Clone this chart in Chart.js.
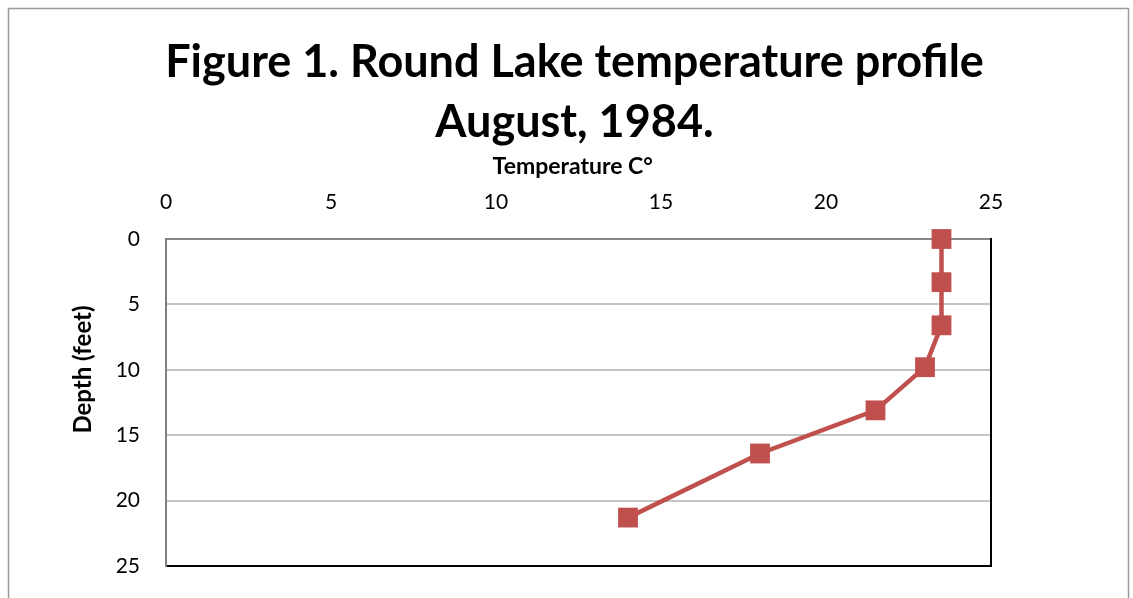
<!DOCTYPE html>
<html lang="en">
<head>
  <meta charset="UTF-8">
  <title>Round Lake temperature profile</title>
  <script src="https://cdn.jsdelivr.net/npm/chart.js"></script>
  <style>
    body { margin: 0; background: white; }
    #wrap { width: 1133px; height: 598px; position: relative; }
  </style>
</head>
<body>
<div id="wrap"><canvas id="perfilChart"></canvas></div>
<script>
// temperature (C) and depth (feet)
const temperaturas = [23.5, 23.5, 23.5, 23.0, 21.5, 18.0, 14.0];
const profundidades = [0, 3.3, 6.6, 9.8, 13.1, 16.4, 21.3];
const tituloLineas = ['Figure 1. Round Lake temperature profile', 'August, 1984.'];
const ejeX = { min: 0, max: 25, paso: 5 };
const ejeY = { min: 0, max: 25, paso: 5 };

const rojo = '#C0504D';

// outer frame of the chart object
const marco = {
  id: 'marco',
  beforeDraw(chart) {
    const ctx = chart.ctx;
    ctx.save();
    ctx.fillStyle = 'white';
    ctx.fillRect(0, 0, chart.width, chart.height);
    ctx.strokeStyle = '#9a9a9a';
    ctx.lineWidth = 1.5;
    ctx.strokeRect(8.5, 8.5, 1120, 700);
    ctx.restore();
  }
};

Chart.defaults.font.family = 'Lato, "Open Sans", sans-serif';
Chart.defaults.color = '#000';

const ctx = document.getElementById('perfilChart').getContext('2d');
new Chart(ctx, {
  type: 'scatter',
  data: {
    datasets: [{
      data: temperaturas.map((t, i) => ({ x: t, y: profundidades[i] })),
      showLine: true,
      borderColor: rojo,
      backgroundColor: rojo,
      borderWidth: 4.5,
      pointStyle: 'rect',
      pointRadius: 14,
      pointHoverRadius: 14,
      pointBorderWidth: 0,
      clip: false
    }]
  },
  options: {
    responsive: true,
    maintainAspectRatio: false,
    animation: false,
    layout: { padding: { left: 16, right: 0, top: 0, bottom: 0 } },
    plugins: {
      legend: { display: false },
      tooltip: { enabled: false },
      title: {
        display: true,
        text: tituloLineas,
        color: '#000',
        font: { size: 45, weight: 'bold', lineHeight: 1.3333 },
        padding: { top: 32, bottom: 0 }
      }
    },
    scales: {
      x: {
        type: 'linear',
        position: 'top',
        min: ejeX.min, max: ejeX.max,
        ticks: { stepSize: ejeX.paso, padding: 24, font: { size: 21 } },
        grid: { display: false, drawTicks: false },
        border: { display: true, color: '#868686', width: 2 },
        title: {
          display: true,
          text: 'Temperature C°\u2002',
          font: { size: 23, weight: 'bold', lineHeight: 1.2 },
          padding: { top: 1, bottom: 0 }
        },
        afterFit(scale) { scale.height = 87; }
      },
      x2: {
        type: 'linear',
        position: 'bottom',
        min: ejeX.min, max: ejeX.max,
        ticks: { display: false },
        grid: { display: false, drawTicks: false },
        border: { display: true, color: '#000', width: 2 },
        afterFit(scale) { scale.height = 32; }
      },
      y: {
        type: 'linear',
        position: 'left',
        reverse: true,
        min: ejeY.min, max: ejeY.max,
        ticks: { stepSize: ejeY.paso, padding: 26, font: { size: 21 } },
        grid: { color: '#c4c4c4', lineWidth: 2, drawTicks: false },
        border: { display: true, color: '#808080', width: 2 },
        title: {
          display: true,
          text: '\u2003\u2003\u2003\u2002Depth (feet)',
          font: { size: 24, weight: 'bold', lineHeight: 1.2 },
          padding: { top: 53, bottom: 0 }
        },
        afterFit(scale) {
          scale.width = 150;
          // label padding must not shrink the plot vertically
          scale.paddingTop = 0;
          scale.paddingBottom = 0;
        }
      },
      y2: {
        type: 'linear',
        position: 'right',
        reverse: true,
        min: ejeY.min, max: ejeY.max,
        ticks: { display: false },
        grid: { display: false, drawTicks: false },
        border: { display: true, color: '#000', width: 2 },
        afterFit(scale) { scale.width = 142; }
      }
    }
  },
  plugins: [marco]
});
</script>
</body>
</html>
